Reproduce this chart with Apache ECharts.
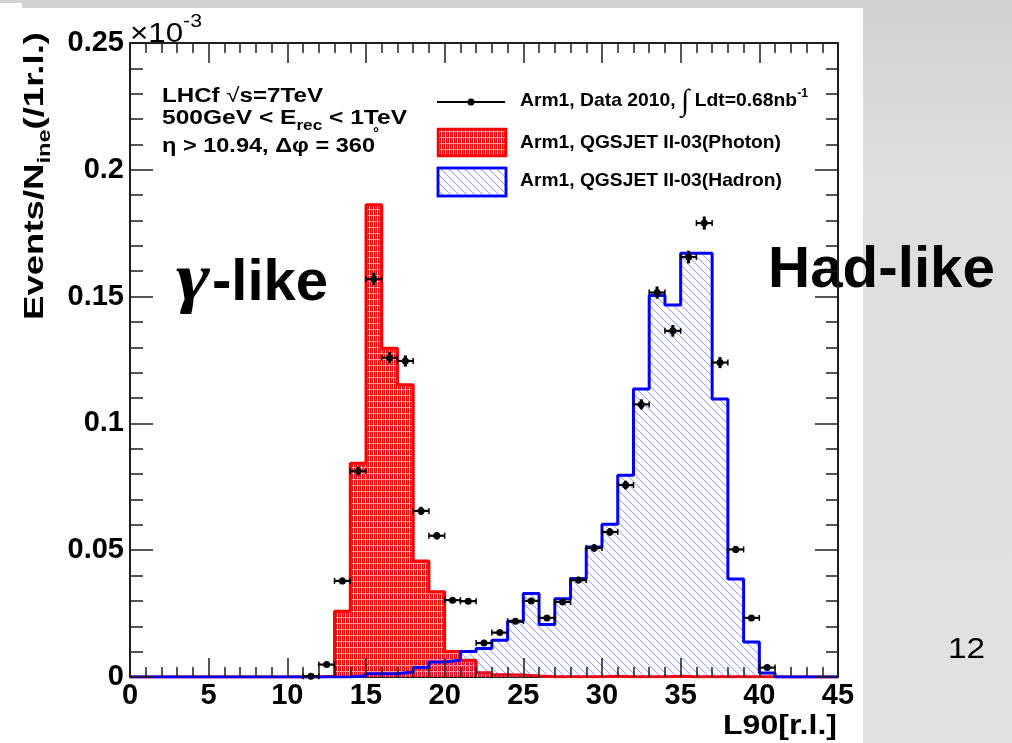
<!DOCTYPE html>
<html>
<head>
<meta charset="utf-8">
<script src="https://cdn.jsdelivr.net/npm/echarts@6/dist/echarts.min.js"></script>
<style>
  html, body { margin: 0; padding: 0; }
  body { width: 1012px; height: 743px; position: relative; overflow: hidden;
         background: linear-gradient(180deg, #d2d2d2 0%, #dedede 25%, #e2e2e2 100%); }
  #sheet { position: absolute; left: 0; top: 8px; width: 863px; height: 735px; background: #fff; }
  #corner { position: absolute; left: 0; top: 3px; width: 22px; height: 6px; background: #fff; }
  #chart { position: absolute; left: 0; top: 0; width: 1012px; height: 743px; }
</style>
</head>
<body>
<div id="sheet"></div>
<div id="corner"></div>
<div id="chart"></div>
<script>
// L90 distributions, 1 r.l. bins, 500 GeV < E_rec < 1 TeV (values in units of 1e-3)
const binStart = [0, 1, 2, 3, 4, 5, 6, 7, 8, 9, 10, 11, 12, 13, 14, 15, 16, 17, 18, 19, 20, 21,
                  22, 23, 24, 25, 26, 27, 28, 29, 30, 31, 32, 33, 34, 35, 36, 37, 38, 39, 40, 41, 42, 43, 44];
const X_MAX = 45;

// QGSJET II-03 photon template
const photon = [0, 0, 0, 0, 0, 0, 0, 0, 0, 0, 0, 0, 0.0003, 0.0259, 0.0843, 0.1862, 0.1296, 0.1152,
                0.0457, 0.0336, 0.0101, 0.0066, 0.0017, 0.0009, 0.0008, 0.0004, 0.0001, 0.0001, 0.0001,
                0.0001, 0.0003, 0.0001, 0.0001, 0.0001, 0.0003, 0.0001, 0.0001, 0.0001, 0.0001, 0.0001,
                0.0001, 0, 0, 0, 0];

// QGSJET II-03 hadron template
const hadron = [0, 0, 0, 0, 0, 0, 0, 0, 0, 0, 0, 0, 0, 0, 0.0005, 0.0013, 0.0013, 0.002, 0.0037,
                0.0059, 0.0066, 0.0101, 0.0112, 0.0145, 0.022, 0.0329, 0.0207, 0.0309, 0.0388, 0.0513,
                0.0602, 0.0796, 0.1136, 0.1504, 0.1467, 0.1671, 0.1671, 0.1096, 0.0386, 0.0138, 0.0016,
                0, 0, 0, 0];

// Arm1 data 2010 (bin centres, values, statistical errors)
const dataX = [11.5, 12.5, 13.5, 14.5, 15.5, 16.5, 17.5, 18.5, 19.5, 20.5, 21.5, 22.5, 23.5, 24.5, 25.5,
               26.5, 27.5, 28.5, 29.5, 30.5, 31.5, 32.5, 33.5, 34.5, 35.5, 36.5, 37.5, 38.5, 39.5, 40.5];
const dataY = [0.0003, 0.0049, 0.0379, 0.0812, 0.1569, 0.1259, 0.1246, 0.0655, 0.0557, 0.0303, 0.0299,
               0.0134, 0.0175, 0.022, 0.030, 0.0233, 0.0296, 0.0382, 0.0509, 0.0572, 0.0757, 0.1075,
               0.1516, 0.1365, 0.1656, 0.179, 0.124, 0.0503, 0.0233, 0.0037];
const dataErr = [0.0003, 0.0007, 0.0013, 0.0018, 0.0025, 0.0022, 0.0022, 0.0016, 0.0015, 0.0011, 0.0011,
                 0.0008, 0.0009, 0.001, 0.0011, 0.001, 0.0011, 0.0013, 0.0015, 0.0015, 0.0017, 0.002,
                 0.0024, 0.0023, 0.0025, 0.0026, 0.0022, 0.0014, 0.001, 0.0004];

const xTickLabels = ['0', '5', '10', '15', '20', '25', '30', '35', '40', '45'];
const yTickLabels = ['0', '0.05', '0.1', '0.15', '0.2', '0.25'];

// ---- fill patterns ----
function makeRedTile() {
  const c = document.createElement('canvas');
  c.width = 4; c.height = 6;
  const g = c.getContext('2d');
  g.fillStyle = '#ff0000'; g.fillRect(0, 0, 4, 6);
  g.fillStyle = 'rgba(255,255,255,0.85)';
  g.fillRect(1, 0, 1, 5);
  g.fillStyle = 'rgba(255,255,255,0.6)';
  g.fillRect(0, 5, 4, 1);
  g.fillStyle = 'rgba(255,255,255,0.4)';
  g.fillRect(3, 0, 1, 4);
  return c;
}
function makeBlueTile() {
  const c = document.createElement('canvas');
  c.width = 8; c.height = 8;
  const g = c.getContext('2d');
  g.strokeStyle = 'rgba(80,80,255,0.5)';
  g.lineWidth = 1.1;
  [-8, 0, 8].forEach(function (x0) {
    g.beginPath(); g.moveTo(x0, 0); g.lineTo(x0 + 8, 8); g.stroke();
  });
  return c;
}
const redFill = { image: makeRedTile(), repeat: 'repeat' };
const blueFill = { image: makeBlueTile(), repeat: 'repeat' };

function stepPoints(vals) {
  const pts = binStart.map(function (x, i) { return [x, vals[i]]; });
  pts.push([X_MAX, vals[vals.length - 1]]);
  return pts;
}

// ---- text layout helpers ----
const mctx = document.createElement('canvas').getContext('2d');
const SANS = 'Liberation Sans';
function cssFont(p) {
  return (p.italic ? 'italic ' : 'normal ') + (p.bold ? 'bold ' : 'normal ') + p.size + 'px "' + (p.family || SANS) + '"';
}
function midToBaseline(p) {
  mctx.font = cssFont(p);
  mctx.textBaseline = 'alphabetic';
  const a = mctx.measureText('H').actualBoundingBoxAscent;
  mctx.textBaseline = 'middle';
  const b = mctx.measureText('H').actualBoundingBoxAscent;
  mctx.textBaseline = 'alphabetic';
  return a - b;
}
// A run of text pieces on a common baseline, optionally stretched to a given width
function textRun(x, y, parts, targetWidth, extra) {
  let cx = 0;
  const kids = [];
  parts.forEach(function (p) {
    mctx.font = cssFont(p);
    const w = mctx.measureText(p.t).width;
    kids.push({
      type: 'text', x: cx, y: (p.dy || 0) - midToBaseline(p),
      style: {
        text: p.t, fill: p.color || '#000', align: 'left', verticalAlign: 'middle',
        fontSize: p.size, fontWeight: p.bold ? 'bold' : 'normal',
        fontStyle: p.italic ? 'italic' : 'normal', fontFamily: p.family || SANS
      }
    });
    cx += w;
  });
  const g = { type: 'group', x: x, y: y, silent: true, z: 10,
              scaleX: targetWidth ? targetWidth / cx : 1, children: kids };
  return Object.assign(g, extra || {});
}

// ---- data points with error bars ----
function renderPoint(params, api) {
  const x = api.value(0), y = api.value(1), e = api.value(2);
  const c = api.coord([x, y]);
  const l = api.coord([x - 0.5, y]);
  const r = api.coord([x + 0.5, y]);
  const t = api.coord([x, y + e]);
  const b = api.coord([x, y - e]);
  const ink = '#000';
  return {
    type: 'group',
    children: [
      { type: 'line', shape: { x1: l[0], y1: c[1], x2: r[0], y2: c[1] }, style: { stroke: ink, lineWidth: 2.2 } },
      { type: 'line', shape: { x1: l[0], y1: c[1] - 3, x2: l[0], y2: c[1] + 3 }, style: { stroke: ink, lineWidth: 1.5 } },
      { type: 'line', shape: { x1: r[0], y1: c[1] - 3, x2: r[0], y2: c[1] + 3 }, style: { stroke: ink, lineWidth: 1.5 } },
      { type: 'line', shape: { x1: c[0], y1: t[1], x2: c[0], y2: b[1] }, style: { stroke: ink, lineWidth: 3 } },
      { type: 'circle', shape: { cx: c[0], cy: c[1], r: 3.5 }, style: { fill: ink } }
    ]
  };
}

const frame = '#1e1e1e';
const tickLine = { color: frame, width: 1.5 };
const labelFont = { fontFamily: SANS, fontWeight: 'bold', fontSize: 29, color: '#000' };

const chart = echarts.init(document.getElementById('chart'), null, { renderer: 'canvas' });

const option = {
  animation: false,
  backgroundColor: 'transparent',
  grid: { left: 130, top: 43, width: 708, height: 634, containLabel: false, outerBoundsMode: 'none' },
  xAxis: [
    { type: 'value', position: 'bottom', min: 0, max: X_MAX, interval: 5,
      axisLine: { show: true, onZero: false, lineStyle: { color: frame, width: 2 } },
      axisTick: { show: false }, minorTick: { show: false }, splitLine: { show: false },
      axisLabel: Object.assign({ margin: 4, formatter: function (v) { return xTickLabels[Math.round(v / 5)]; } }, labelFont) },
    { type: 'value', position: 'bottom', min: 0, max: X_MAX, interval: 5, z: 5,
      axisLine: { show: false }, splitLine: { show: false }, axisLabel: { show: false },
      axisTick: { show: true, inside: true, length: 19, lineStyle: tickLine },
      minorTick: { show: true, splitNumber: 5, length: 10, lineStyle: tickLine } },
    { type: 'value', position: 'top', min: 0, max: X_MAX, interval: 5, z: 5,
      axisLine: { show: true, onZero: false, lineStyle: { color: frame, width: 2 } },
      splitLine: { show: false }, axisLabel: { show: false },
      axisTick: { show: true, inside: true, length: 20, lineStyle: tickLine },
      minorTick: { show: true, splitNumber: 5, length: 10, lineStyle: tickLine } }
  ],
  yAxis: [
    { type: 'value', position: 'left', min: 0, max: 0.25, interval: 0.05, z: 5,
      axisLine: { show: true, onZero: false, lineStyle: { color: frame, width: 2 } },
      splitLine: { show: false },
      axisTick: { show: true, inside: true, length: 23, lineStyle: tickLine },
      minorTick: { show: true, splitNumber: 5, length: 13, lineStyle: tickLine },
      axisLabel: Object.assign({ margin: 6, formatter: function (v) { return yTickLabels[Math.round(v / 0.05)]; } }, labelFont) },
    { type: 'value', position: 'right', min: 0, max: 0.25, interval: 0.05, z: 5,
      axisLine: { show: true, onZero: false, lineStyle: { color: frame, width: 2 } },
      splitLine: { show: false }, axisLabel: { show: false },
      axisTick: { show: true, inside: true, length: 23, lineStyle: tickLine },
      minorTick: { show: true, splitNumber: 5, length: 12, lineStyle: tickLine } }
  ],
  series: [
    { name: 'Arm1, QGSJET II-03(Photon)', type: 'line', step: 'end', xAxisIndex: 0, yAxisIndex: 0,
      data: stepPoints(photon), showSymbol: false, symbol: 'none', z: 2,
      lineStyle: { color: '#ff0000', width: 3 },
      areaStyle: { color: redFill, opacity: 1 } },
    { name: 'Arm1, QGSJET II-03(Hadron)', type: 'line', step: 'end', xAxisIndex: 0, yAxisIndex: 0,
      data: stepPoints(hadron), showSymbol: false, symbol: 'none', z: 3,
      lineStyle: { color: '#0000ff', width: 3 },
      areaStyle: { color: blueFill, opacity: 1 } },
    { name: 'Arm1, Data 2010', type: 'custom', xAxisIndex: 0, yAxisIndex: 0, z: 4,
      renderItem: renderPoint,
      data: dataX.map(function (x, i) { return [x, dataY[i], dataErr[i]]; }) }
  ],
  graphic: { elements: [
    // exponent of the vertical scale
    textRun(130, 42, [{ t: '×10', size: 28 }, { t: '-3', size: 19, dy: -15 }], 72),
    // run conditions
    textRun(162, 102, [{ t: 'LHCf ', size: 20, bold: true }, { t: '√', size: 20 }, { t: 's=7TeV', size: 20, bold: true }], 161),
    textRun(162, 124, [{ t: '500GeV < E', size: 20, bold: true }, { t: 'rec', size: 14, bold: true, dy: 6 },
                       { t: ' < 1TeV', size: 20, bold: true }], 245),
    textRun(162, 152, [{ t: 'η > 10.94, Δφ = 360', size: 20, bold: true }], 213),
    textRun(373, 138, [{ t: '°', size: 15, bold: true }]),
    // legend
    { type: 'line', silent: true, z: 10, shape: { x1: 437, y1: 102, x2: 505, y2: 102 }, style: { stroke: '#000', lineWidth: 2 } },
    { type: 'circle', silent: true, z: 10, shape: { cx: 471, cy: 102, r: 3.5 }, style: { fill: '#000' } },
    textRun(520, 106, [{ t: 'Arm1, Data 2010, ', size: 19, bold: true },
                       { t: '∫', size: 30, family: 'Liberation Serif', dy: 4 },
                       { t: ' Ldt=0.68nb', size: 19, bold: true },
                       { t: '-1', size: 12, bold: true, dy: -9 }], 288),
    { type: 'rect', silent: true, z: 10, shape: { x: 438, y: 129, width: 68, height: 27 },
      style: { fill: redFill, stroke: '#ff0000', lineWidth: 2.5 } },
    textRun(520, 148, [{ t: 'Arm1, QGSJET II-03(Photon)', size: 19, bold: true }], 261),
    { type: 'rect', silent: true, z: 10, shape: { x: 438, y: 168, width: 68, height: 28 },
      style: { fill: '#fff', stroke: '#0000ff', lineWidth: 2.5 } },
    { type: 'rect', silent: true, z: 11, shape: { x: 438, y: 168, width: 68, height: 28 },
      style: { fill: blueFill, stroke: '#0000ff', lineWidth: 2.5 } },
    textRun(520, 186, [{ t: 'Arm1, QGSJET II-03(Hadron)', size: 19, bold: true }], 262),
    // region labels
    textRun(176, 300, [{ t: 'γ', size: 68, italic: true, bold: true, family: 'Liberation Serif' }], 34),
    textRun(212, 300, [{ t: '-like', size: 58, bold: true }], 116),
    textRun(768, 287, [{ t: 'Had-like', size: 58, bold: true }], 227),
    textRun(948, 658, [{ t: '12', size: 29 }], 37),
    // axis titles
    textRun(723, 734, [{ t: 'L90[r.l.]', size: 28, bold: true }], 114),
    textRun(43, 320, [{ t: 'Events/N', size: 28, bold: true }, { t: 'ine', size: 18, bold: true, dy: 7 },
                      { t: '(/1r.l.)', size: 28, bold: true }], 288, { rotation: Math.PI / 2 })
  ] }
};

chart.setOption(option);
</script>
</body>
</html>
